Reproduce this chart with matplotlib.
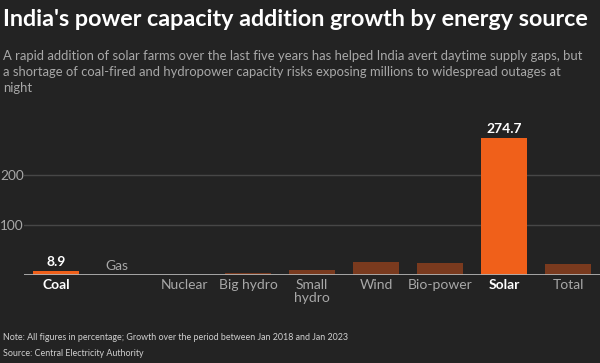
import matplotlib.pyplot as plt
import numpy as np

plt.rcParams['font.family'] = ['Lato', 'DejaVu Sans']

categories = ['Coal', 'Gas', 'Nuclear', 'Big hydro', 'Small\nhydro', 'Wind', 'Bio-power', 'Solar', 'Total']
growth = [8.9, -0.3, 0.0, 4.5, 11.0, 27.0, 24.5, 274.7, 22.0]
highlight = ['Coal', 'Solar']
yticks = [100, 200]

bg = '#232323'
orange = '#f0601a'
brown = '#7a3a1e'
grey_txt = '#a8a8a8'

fig = plt.figure(figsize=(6, 3.63), dpi=100, facecolor=bg)
ax = fig.add_axes([24 / 600, 88 / 363, 576 / 600, 140 / 363], facecolor=bg)

x = np.arange(len(categories))
colors = [orange if c in highlight else brown for c in categories]
ax.bar(x, growth, width=0.72, color=colors, zorder=2)

ax.set_xlim(-0.5, 8.5)
ax.set_ylim(0, 280)
ax.set_yticks(yticks)
ax.set_yticklabels([str(t) for t in yticks], color=grey_txt, fontsize=9.8, ha='left')
ax.tick_params(axis='y', length=0, pad=17)
ax.set_xticks([])
for s in ax.spines.values():
    s.set_visible(False)
for v in yticks:
    ax.axhline(v, color='#474747', lw=1, zorder=1)
ax.axhline(0, color='#b0b0b0', lw=1.3, zorder=3)

# category labels
for i, c in enumerate(categories):
    bold = c in highlight
    col = 'white' if bold else grey_txt
    if c == 'Gas':
        ax.text(i - 0.05, 6, c, ha='center', va='bottom', color=col, fontsize=10,
                clip_on=False)
        continue
    ax.text(i, -8, c, ha='center', va='top', color=col, fontsize=10,
            fontweight='bold' if bold else 'normal', linespacing=1.05, clip_on=False)
    if bold:
        ax.text(i, growth[i] + 6, f'{growth[i]:.1f}', ha='center', va='bottom',
                color='white', fontsize=10, fontweight='bold', clip_on=False)

fig.text(3 / 600, 1 - 20 / 363, "India's power capacity addition growth by energy source",
         color='white', fontsize=16.8, fontweight='bold', va='center', ha='left')
fig.text(3 / 600, 1 - 50 / 363,
         'A rapid addition of solar farms over the last five years has helped India avert daytime supply gaps, but\n'
         'a shortage of coal-fired and hydropower capacity risks exposing millions to widespread outages at\n'
         'night', color=grey_txt, fontsize=9.4, va='top', ha='left', linespacing=1.42)
fig.text(3 / 600, 1 - 337 / 363,
         'Note: All figures in percentage; Growth over the period between Jan 2018 and Jan 2023',
         color='#d0d0d0', fontsize=6.4, va='center', ha='left')
fig.text(3 / 600, 1 - 354 / 363, 'Source: Central Electricity Authority',
         color='#d0d0d0', fontsize=6.4, va='center', ha='left')

fig.savefig('out.png', dpi=100, facecolor=bg)
